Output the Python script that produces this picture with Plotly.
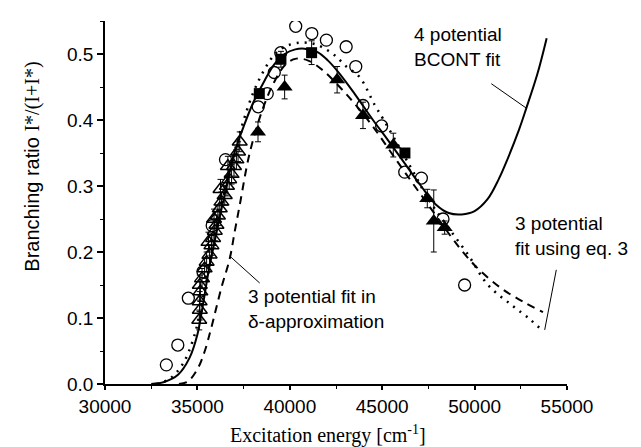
import plotly.graph_objects as go

# ---------------- data ----------------
circ_x = [33320, 33940, 34510, 35300, 35800, 36520, 38290, 38780, 39160, 39510,
          40320, 41190, 41980, 43050, 43570, 43960, 44970, 46220, 47120, 48290, 49460]
circ_y = [0.029, 0.059, 0.130, 0.170, 0.240, 0.340, 0.420, 0.440, 0.472, 0.502,
          0.542, 0.531, 0.521, 0.511, 0.481, 0.422, 0.391, 0.321, 0.312, 0.250, 0.150]

sq_x = [38350, 39520, 41180, 46230]
sq_y = [0.440, 0.492, 0.502, 0.350]
sq_err = [0.0, 0.012, 0.018, 0.0]

ftri_x = [38280, 39720, 42560, 43960, 45600, 47440, 47790, 48380]
ftri_y = [0.382, 0.450, 0.461, 0.407, 0.362, 0.281, 0.247, 0.237]
ftri_err = [0.015, 0.018, 0.020, 0.020, 0.018, 0.014, 0.047, 0.010]

otri_x = [35100, 35130, 35120, 35160, 35130, 35250, 35390, 35500, 35660, 35760,
          35850, 35940, 36030, 36110, 36210, 36300, 36480, 36600, 36720, 36850,
          36980, 37110, 37200, 37290, 35600, 35900, 36250, 36650]
otri_y = [0.097, 0.112, 0.125, 0.140, 0.150, 0.160, 0.175, 0.185, 0.196, 0.210,
          0.221, 0.232, 0.241, 0.255, 0.266, 0.276, 0.286, 0.300, 0.310, 0.318,
          0.330, 0.340, 0.352, 0.367, 0.215, 0.250, 0.295, 0.330]
otri_err = [0.015] * len(otri_x)

# 4 potential BCONT fit (solid)
bcont_x = [32500, 33200, 33950, 34580, 35000, 35300, 35600, 36000, 36500, 37000,
           37500, 38000, 38640, 39180, 39720, 40300, 40800, 41500, 42070, 42700,
           43500, 44500, 45300, 46200, 47100, 47900, 48600, 49300, 50000, 50700,
           51300, 51800, 52400, 52800, 53400, 53900]
bcont_y = [0.000, 0.003, 0.014, 0.040, 0.075, 0.120, 0.170, 0.225, 0.290, 0.350,
           0.390, 0.425, 0.460, 0.485, 0.500, 0.507, 0.508, 0.503, 0.490, 0.470,
           0.440, 0.400, 0.370, 0.335, 0.300, 0.272, 0.259, 0.257, 0.262, 0.280,
           0.310, 0.342, 0.385, 0.418, 0.470, 0.524]

# 3 potential fit, delta approximation (dashed)
delta_x = [34000, 34490, 35030, 35400, 35750, 36290, 36750, 37020, 37290, 37830,
           38550, 39200, 39800, 40350, 41000, 41800, 42700, 43500, 44500, 45500,
           46500, 47400, 48300, 48920, 50000, 51445, 52600, 53700]
delta_y = [0.000, 0.004, 0.024, 0.050, 0.085, 0.145, 0.190, 0.231, 0.271, 0.350,
           0.418, 0.460, 0.485, 0.493, 0.490, 0.475, 0.450, 0.425, 0.390, 0.350,
           0.310, 0.275, 0.240, 0.216, 0.180, 0.145, 0.125, 0.109]

# 3 potential fit using eq. 3 (dotted)
eq3_x = [32800, 33500, 34200, 34800, 35300, 35800, 36300, 36800, 37400, 38000,
         38600, 39200, 39800, 40500, 41200, 41700, 42425, 43100, 43780, 44590,
         45043, 45900, 46667, 47500, 48500, 49643, 50725, 51987, 53000, 53700]
eq3_y = [0.000, 0.008, 0.030, 0.070, 0.130, 0.200, 0.270, 0.330, 0.390, 0.440,
         0.475, 0.500, 0.512, 0.517, 0.516, 0.511, 0.498, 0.480, 0.465, 0.423,
         0.402, 0.360, 0.322, 0.280, 0.240, 0.196, 0.150, 0.120, 0.098, 0.080]

x_ticks = [30000, 35000, 40000, 45000, 50000, 55000]
y_ticks = [0.0, 0.1, 0.2, 0.3, 0.4, 0.5]

# ---------------- figure ----------------
fig = go.Figure()
fig.add_trace(go.Scatter(x=eq3_x, y=eq3_y, mode="lines", line=dict(color="black", width=2.5, dash="2px,6px", shape="spline"), hoverinfo="skip"))
fig.add_trace(go.Scatter(x=delta_x, y=delta_y, mode="lines", line=dict(color="black", width=2, dash="8px,6px", shape="spline"), hoverinfo="skip"))
fig.add_trace(go.Scatter(x=bcont_x, y=bcont_y, mode="lines", line=dict(color="black", width=2, shape="spline")))

errstyle = dict(type="data", color="black", thickness=1, width=3)
fig.add_trace(go.Scatter(x=otri_x, y=otri_y, mode="markers",
                         marker=dict(symbol="triangle-up-open", size=13, color="black", line=dict(width=1.5)),
                         error_y=dict(array=otri_err, **errstyle)))
fig.add_trace(go.Scatter(x=circ_x, y=circ_y, mode="markers",
                         marker=dict(symbol="circle-open", size=12, color="black", line=dict(width=1.3))))
fig.add_trace(go.Scatter(x=sq_x, y=sq_y, mode="markers",
                         marker=dict(symbol="square", size=11, color="black"),
                         error_y=dict(array=sq_err, **errstyle)))
fig.add_trace(go.Scatter(x=ftri_x, y=ftri_y, mode="markers",
                         marker=dict(symbol="triangle-up", size=14, color="black"),
                         error_y=dict(array=ftri_err, **errstyle)))

sans = "Liberation Sans, Arial, sans-serif"
serif = "Liberation Serif, Times New Roman, serif"
txtfont = dict(family=sans, size=19, color="black")
fig.add_annotation(x=46600, y=0.548, xref="x", yref="y", text="4 potential<br>BCONT fit",
                   showarrow=False, xanchor="left", yanchor="top", align="left", font=txtfont)
fig.add_annotation(x=52080, y=0.262, xref="x", yref="y", text="3 potential<br>fit using eq. 3",
                   showarrow=False, xanchor="left", yanchor="top", align="left", font=txtfont)
fig.add_annotation(x=37650, y=0.152, xref="x", yref="y", text="3 potential fit in<br>δ-approximation",
                   showarrow=False, xanchor="left", yanchor="top", align="left", font=txtfont)

lead = dict(color="black", width=1)
fig.add_shape(type="line", x0=36743, y0=0.194, x1=38371, y1=0.153, line=lead)
fig.add_shape(type="line", x0=50903, y0=0.455, x1=52797, y1=0.418, line=lead)
fig.add_shape(type="line", x0=54421, y0=0.173, x1=53793, y1=0.082, line=lead)

# axis titles
fig.add_annotation(x=-0.157, y=0.6, xref="paper", yref="paper", textangle=-90,
                   text=f'Branching ratio <span style="font-family:{serif}">I*/(I+I*)</span>',
                   showarrow=False, xanchor="center", yanchor="middle",
                   font=dict(family=sans, size=20, color="black"))
fig.add_annotation(x=0.483, y=-0.14, xref="paper", yref="paper",
                   text="Excitation energy [cm<sup>-1</sup>]",
                   showarrow=False, xanchor="center", yanchor="middle",
                   font=dict(family=serif, size=20, color="black"))

fig.update_layout(
    width=641, height=447,
    margin=dict(l=97, r=82, t=13, b=71),
    paper_bgcolor="white", plot_bgcolor="white",
    showlegend=False,
    font=dict(family=sans, size=19, color="black"),
)
fig.update_xaxes(range=[30000, 55000], tickvals=x_ticks, ticktext=[str(v) for v in x_ticks],
                 showline=True, linecolor="black", linewidth=1.5, ticks="outside", ticklen=4, tickwidth=1.5,
                 tickcolor="black", showgrid=False, zeroline=False, mirror=False,
                 minor=dict(dtick=2500, ticks="outside", ticklen=3, tickwidth=1.2, tickcolor="black", showgrid=False))
fig.update_yaxes(range=[0, 0.55], tickvals=y_ticks, ticktext=[f"{v:.1f}" for v in y_ticks],
                 showline=True, linecolor="black", linewidth=1.5, ticks="outside", ticklen=6, tickwidth=1.5,
                 tickcolor="black", showgrid=False, zeroline=False, mirror=False,
                 minor=dict(dtick=0.05, ticks="outside", ticklen=3, tickwidth=1.2, tickcolor="black", showgrid=False))

fig.write_html("out.html")
